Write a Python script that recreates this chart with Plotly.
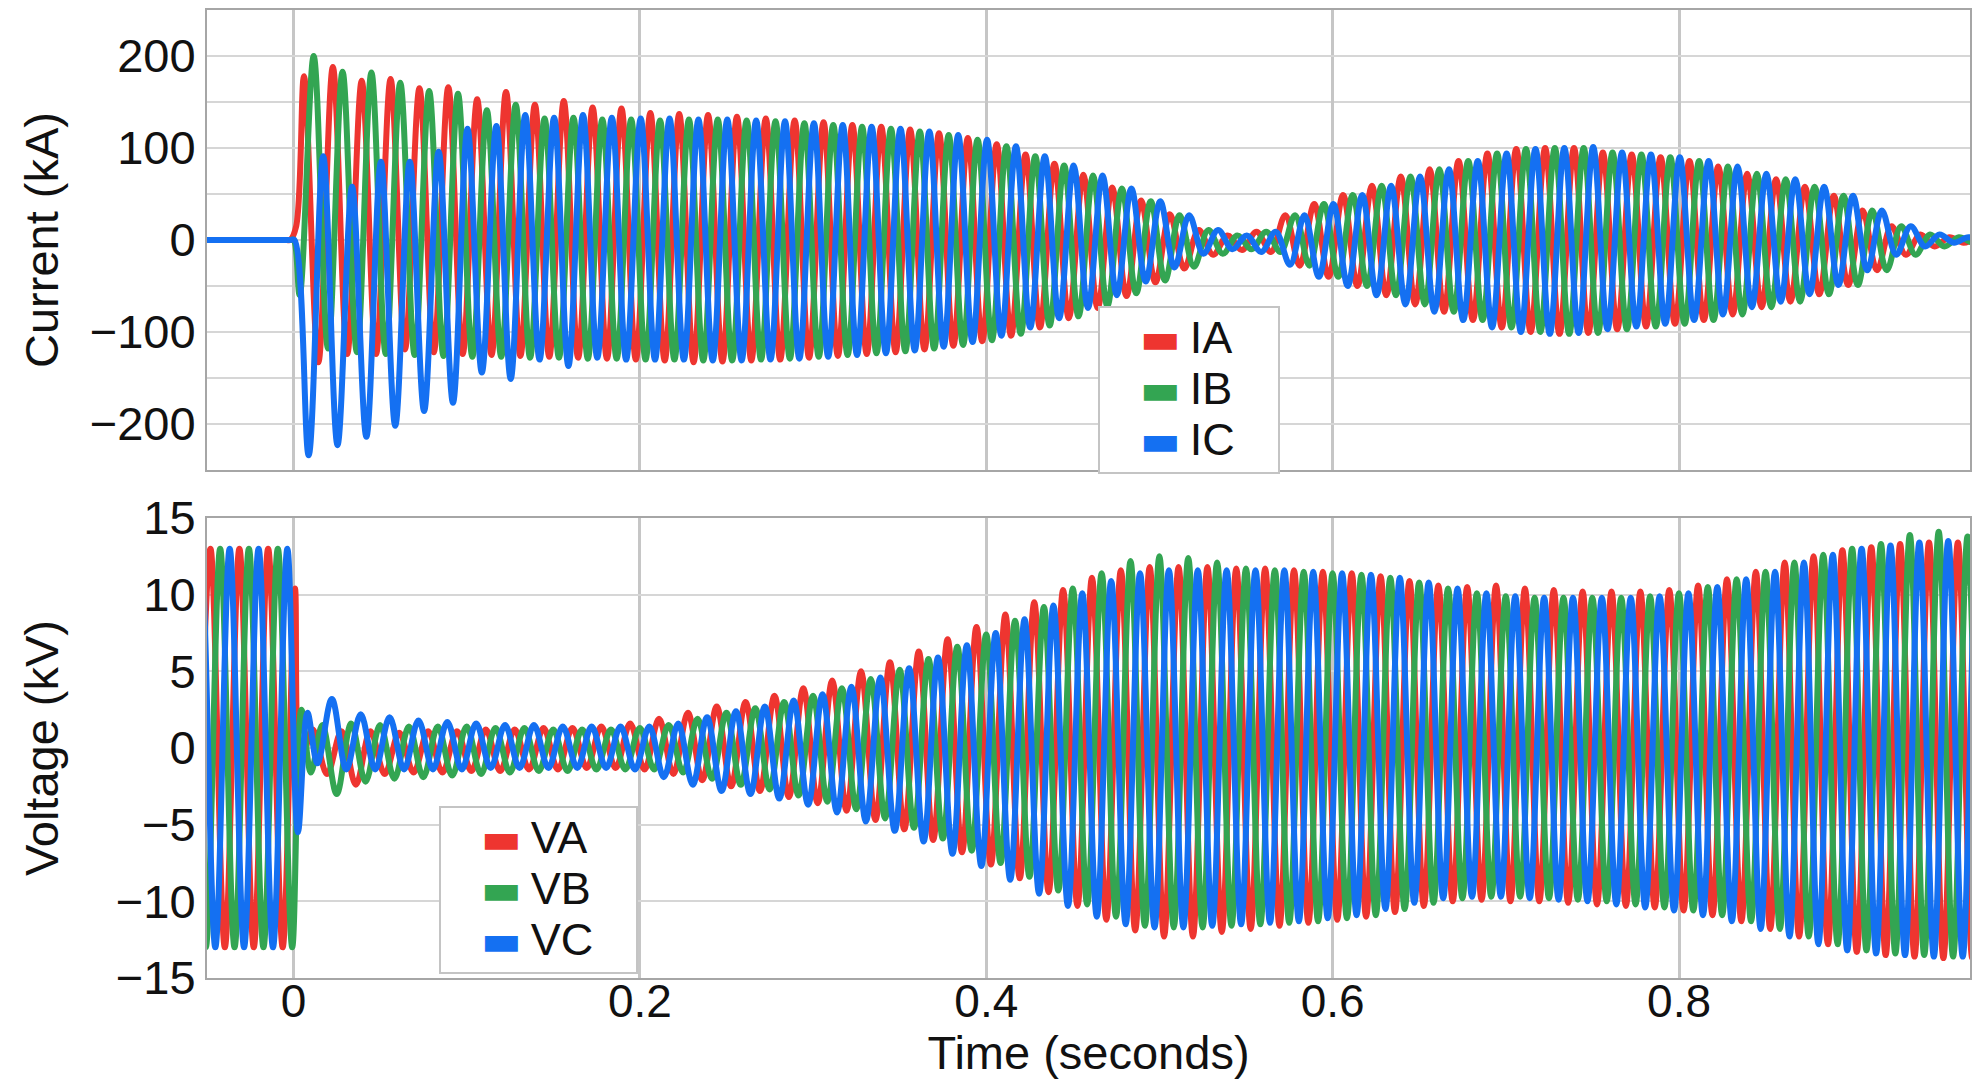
import plotly.graph_objects as go
from plotly.subplots import make_subplots

# ---------------- data ----------------
T = 1 / 60  # period of the 60 Hz waveforms (s)

# Currents (kA): zero before the fault, then one positive peak and one
# negative trough per cycle for every phase.
IA_head_t = [-0.05, -0.004, -0.002, 0.0015]
IA_head_v = [0, 0, 0, 15]
IA_peak_t0, IA_trough_t0 = 0.0060, 0.0143
IA_peak = [178, 188, 173, 175, 165, 166, 153, 161, 147, 151,
           144, 143, 138, 137, 136, 134, 132, 130, 128, 125,
           123, 120, 116, 111, 104, 93, 83, 71, 57, 43,
           28, 11, 5, 9, 27, 39, 49, 59, 69, 77,
           86, 94, 99, 100, 100, 95, 93, 90, 86, 80,
           72, 66, 58, 48, 32, 15, 6, 3, 2]
IA_trough = [-133, -124, -124, -119, -122, -124, -125, -126, -127, -128,
             -129, -130, -131, -133, -132, -131, -130, -128, -126, -124,
             -122, -119, -115, -110, -104, -95, -85, -74, -61, -46,
             -31, -16, -11, -13, -28, -40, -50, -60, -70, -78,
             -87, -95, -100, -102, -101, -97, -94, -91, -87, -81,
             -73, -67, -59, -49, -33, -16, -7, -3, -2]

IB_head_t = [-0.05, -0.002, 0.0, 0.0035]
IB_head_v = [0, 0, 0, -60]
IB_peak_t0, IB_trough_t0 = 0.0116, 0.0199
IB_peak = [200, 183, 182, 171, 162, 159, 141, 147, 132, 133,
           131, 131, 130, 131, 131, 130, 129, 127, 125, 123,
           121, 118, 114, 109, 102, 91, 81, 70, 56, 42,
           27, 11, 5, 9, 27, 39, 49, 59, 69, 77,
           86, 94, 99, 100, 100, 95, 93, 90, 86, 80,
           72, 66, 58, 48, 32, 15, 6, 3, 2]
IB_trough = [-118, -122, -124, -125, -126, -127, -127, -128, -128, -129,
             -129, -130, -130, -131, -131, -130, -129, -127, -125, -123,
             -121, -118, -114, -109, -102, -93, -83, -72, -58, -44,
             -29, -15, -10, -13, -28, -40, -50, -60, -70, -78,
             -87, -95, -100, -102, -101, -97, -94, -91, -87, -81,
             -73, -67, -59, -49, -33, -16, -7, -3, -2]

IC_head_t = [-0.05, -0.002, 0.0005]
IC_head_v = [0, 0, 0]
IC_peak_t0, IC_trough_t0 = 0.0171, 0.0087
IC_peak = [91, 58, 85, 85, 96, 121, 124, 136, 133, 136,
           133, 132, 132, 131, 131, 130, 129, 127, 125, 123,
           121, 118, 114, 109, 102, 91, 81, 70, 56, 42,
           27, 11, 5, 9, 27, 39, 49, 59, 69, 77,
           86, 94, 99, 100, 101, 95, 93, 90, 86, 80,
           72, 66, 58, 48, 32, 15, 6, 3, 2]
IC_trough = [-234, -223, -214, -202, -186, -177, -144, -151, -130, -137,
             -128, -130, -130, -130, -131, -131, -130, -129, -127, -125,
             -123, -120, -116, -111, -104, -95, -85, -74, -60, -45,
             -30, -15, -10, -13, -27, -40, -50, -60, -70, -78,
             -87, -95, -100, -102, -101, -97, -94, -91, -87, -81,
             -73, -67, -59, -49, -33, -16, -7, -3, -2]

# Voltages (kV): pre-fault extremes + collapse, then one peak and one
# trough per cycle.
VA_head_t = [-0.0563, -0.048, -0.0397, -0.0313, -0.023, -0.0147, -0.0063, 0.0008, 0.0040]
VA_head_v = [-13, 13, -13, 13, -13, 13, -13, 10.4, -1.0]
VA_peak_t0, VA_trough_t0 = 0.0110, 0.0193
VA_peak = [1.2, 1.1, 1.1, 1.0, 1.1, 1.1, 1.2, 1.2, 1.3, 1.3,
           1.4, 1.6, 1.9, 2.3, 2.7, 3.0, 3.4, 3.9, 4.4, 5.0,
           5.6, 6.3, 7.1, 7.9, 8.7, 9.5, 10.3, 11.1, 11.6, 11.8,
           11.8, 11.8, 11.7, 11.7, 11.6, 11.5, 11.4, 11.2, 10.9, 10.6,
           10.5, 10.6, 10.4, 10.3, 10.2, 10.2, 10.2, 10.3, 10.6, 11.0,
           11.5, 12.1, 12.5, 12.9, 13.1, 13.3, 13.4, 13.4, 13.4]
VA_trough = [-1.7, -2.4, -1.7, -1.6, -1.6, -1.5, -1.5, -1.4, -1.4, -1.3,
             -1.3, -1.4, -1.7, -2.1, -2.5, -2.8, -3.2, -3.6, -4.1, -4.7,
             -5.3, -6.0, -6.8, -7.6, -8.5, -9.4, -10.3, -11.2, -11.9, -12.3,
             -12.3, -12.0, -11.8, -11.6, -11.4, -11.2, -11.0, -10.7, -10.3, -10.0,
             -9.9, -10.0, -10.0, -10.1, -10.2, -10.3, -10.4, -10.6, -10.9, -11.3,
             -11.8, -12.3, -12.8, -13.3, -13.5, -13.6, -13.7, -13.7, -13.7]

VB_head_t = [-0.059, -0.0507, -0.0424, -0.0341, -0.0258, -0.0174, -0.0091, -0.0008, 0.0045, 0.0100]
VB_head_v = [13, -13, 13, -13, 13, -13, 13, -13, 2.5, -1.6]
VB_peak_t0, VB_trough_t0 = 0.0166, 0.0249
VB_peak = [1.5, 1.6, 1.5, 1.4, 1.4, 1.4, 1.3, 1.3, 1.2, 1.2,
           1.2, 1.3, 1.5, 1.9, 2.3, 2.6, 3.0, 3.4, 3.9, 4.5,
           5.1, 5.8, 6.6, 7.4, 8.3, 9.2, 10.4, 11.4, 12.2, 12.5,
           12.4, 12.1, 11.7, 11.6, 11.5, 11.4, 11.3, 11.1, 10.8, 10.4,
           10.1, 9.9, 9.8, 9.8, 9.8, 9.8, 9.9, 10.1, 10.5, 11.0,
           11.5, 12.1, 12.6, 13.0, 13.3, 13.9, 14.1, 13.8, 13.7]
VB_trough = [-3.0, -2.2, -2.0, -1.9, -1.8, -1.7, -1.6, -1.5, -1.5, -1.4,
             -1.4, -1.4, -1.6, -2.0, -2.4, -2.7, -3.1, -3.5, -4.0, -4.6,
             -5.2, -5.9, -6.7, -7.5, -8.4, -9.3, -10.2, -11.0, -11.6, -11.7,
             -11.7, -11.6, -11.5, -11.4, -11.3, -11.1, -10.9, -10.5, -10.1, -9.8,
             -9.7, -9.7, -9.8, -9.9, -10.0, -10.2, -10.4, -10.6, -10.9, -11.3,
             -11.8, -12.3, -12.8, -13.2, -13.4, -13.5, -13.6, -13.6, -13.6]

VC_head_t = [-0.0618, -0.0535, -0.0452, -0.0369, -0.0286, -0.0202, -0.0119, -0.0036, 0.0025, 0.0080]
VC_head_v = [-13, 13, -13, 13, -13, 13, -13, 13, -5.5, 2.3]
VC_peak_t0, VC_trough_t0 = 0.0221, 0.0138
VC_peak = [3.2, 2.2, 2.0, 1.8, 1.7, 1.6, 1.5, 1.5, 1.4, 1.4,
           1.4, 1.4, 1.6, 2.0, 2.4, 2.7, 3.1, 3.5, 4.0, 4.6,
           5.2, 5.9, 6.7, 7.5, 8.4, 9.3, 10.1, 10.9, 11.4, 11.6,
           11.6, 11.6, 11.6, 11.6, 11.5, 11.4, 11.3, 11.1, 10.8, 10.4,
           10.1, 9.9, 9.8, 9.8, 9.8, 9.8, 9.9, 10.1, 10.5, 11.0,
           11.5, 12.1, 12.6, 13.0, 13.2, 13.4, 13.5, 13.5, 13.5]
VC_trough = [-1.0, -1.4, -1.4, -1.4, -1.4, -1.4, -1.3, -1.3, -1.3, -1.3,
             -1.3, -1.4, -1.9, -2.4, -2.8, -3.0, -3.3, -3.7, -4.2, -4.8,
             -5.4, -6.1, -6.9, -7.7, -8.6, -9.5, -10.3, -11.0, -11.5, -11.7,
             -11.7, -11.6, -11.5, -11.4, -11.3, -11.1, -10.9, -10.5, -10.1, -9.8,
             -9.7, -9.7, -9.8, -9.9, -10.0, -10.2, -10.4, -10.6, -10.9, -11.3,
             -11.8, -12.3, -12.8, -13.2, -13.4, -13.5, -13.6, -13.6, -13.6]

PHASES = ["A", "B", "C"]
COLORS = {"A": "#ee3530", "B": "#33a552", "C": "#1470f2"}


def series(head_t, head_v, peak_t0, peaks, trough_t0, troughs):
    pts = [(peak_t0 + k * T, v) for k, v in enumerate(peaks)]
    pts += [(trough_t0 + k * T, v) for k, v in enumerate(troughs)]
    pts.sort()
    return list(head_t) + [p[0] for p in pts], list(head_v) + [p[1] for p in pts]


current = {
    "A": series(IA_head_t, IA_head_v, IA_peak_t0, IA_peak, IA_trough_t0, IA_trough),
    "B": series(IB_head_t, IB_head_v, IB_peak_t0, IB_peak, IB_trough_t0, IB_trough),
    "C": series(IC_head_t, IC_head_v, IC_peak_t0, IC_peak, IC_trough_t0, IC_trough),
}
voltage = {
    "A": series(VA_head_t, VA_head_v, VA_peak_t0, VA_peak, VA_trough_t0, VA_trough),
    "B": series(VB_head_t, VB_head_v, VB_peak_t0, VB_peak, VB_trough_t0, VB_trough),
    "C": series(VC_head_t, VC_head_v, VC_peak_t0, VC_peak, VC_trough_t0, VC_trough),
}

FONT = "Liberation Sans, Arial, sans-serif"
TXT = "#111111"

fig = make_subplots(rows=2, cols=1, shared_xaxes=True, vertical_spacing=0.0496)

for row, data in [(1, current), (2, voltage)]:
    for ph in PHASES:
        x, y = data[ph]
        fig.add_trace(go.Scatter(x=x, y=y, mode="lines", showlegend=False, hoverinfo="skip",
                                 line=dict(color=COLORS[ph], width=6, shape="spline", smoothing=1)),
                      row=row, col=1)


def legend_label(ph, prefix):
    swatch = ('<span style="font-family:DejaVu Sans;font-size:43px;color:%s">\u25ac</span>'
              % COLORS[ph])
    return swatch + '<span style="font-size:45px">\u2009%s%s\u00a0\u00a0\u00a0</span>' % (prefix, ph)


# legend entries: the swatch is drawn in the label, the default symbol is hidden
for row, prefix, leg in [(1, "I", "legend"), (2, "V", "legend2")]:
    for ph in PHASES:
        fig.add_trace(go.Scatter(x=[None], y=[None], mode="lines", name=legend_label(ph, prefix),
                                 legend=leg, line=dict(color="rgba(0,0,0,0)", width=0)),
                      row=row, col=1)

axis_common = dict(showline=True, mirror=True, linecolor="#a6a6a6", linewidth=2,
                   zeroline=False, ticks="", automargin=False,
                   tickfont=dict(size=47, color=TXT, family=FONT))

fig.update_xaxes(range=[-0.05, 0.968], tick0=0, dtick=0.2, showgrid=True,
                 gridcolor="#c6c6c6", gridwidth=3, **axis_common)
fig.update_xaxes(showticklabels=False, row=1, col=1)
fig.update_xaxes(title=dict(text="Time (seconds)", font=dict(size=47, color=TXT, family=FONT),
                            standoff=21),
                 ticklabelstandoff=-18, tickfont=dict(size=46, color=TXT, family=FONT),
                 row=2, col=1)

fig.update_yaxes(range=[-250, 250], tick0=0, dtick=100, showgrid=True, gridcolor="#d6d6d6",
                 gridwidth=2, minor=dict(dtick=50, showgrid=True, gridcolor="#d6d6d6", gridwidth=2),
                 title=dict(text="Current (kA)", font=dict(size=47, color=TXT, family=FONT),
                            standoff=16),
                 ticklabelstandoff=0, row=1, col=1, **axis_common)
fig.update_yaxes(range=[-15, 15], tick0=0, dtick=5, showgrid=True, gridcolor="#d6d6d6",
                 gridwidth=2,
                 title=dict(text="Voltage (kV)", font=dict(size=47, color=TXT, family=FONT),
                            standoff=42),
                 ticklabelstandoff=0, row=2, col=1, **axis_common)

legend_style = dict(bgcolor="white", bordercolor="#c4c4c4", borderwidth=2,
                    font=dict(size=37, color=TXT, family=FONT),
                    xanchor="left", yanchor="top", itemwidth=30, tracegroupgap=0)

fig.update_layout(
    width=1972, height=1079,
    margin=dict(l=207, r=2, t=10, b=101, autoexpand=False),
    plot_bgcolor="white", paper_bgcolor="white",
    font=dict(family=FONT, color=TXT),
    legend=dict(x=0.5054, y=0.694, **legend_style),
    legend2=dict(x=0.1316, y=0.1777, **legend_style),
)

fig.write_html("out.html")
